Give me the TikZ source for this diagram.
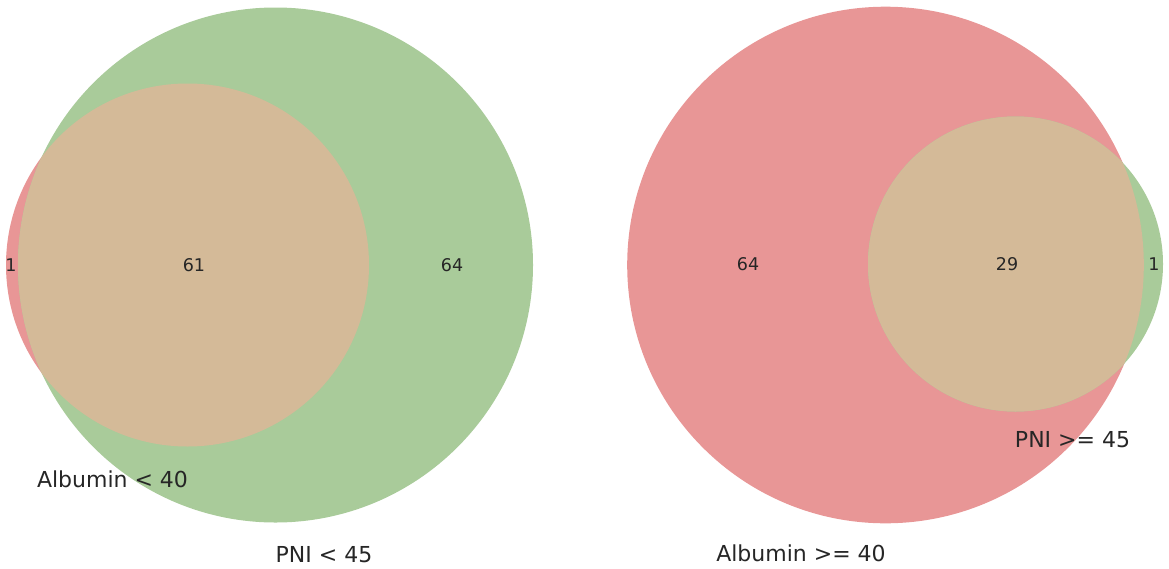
\documentclass[tikz,border=0pt]{standalone}
\usepackage{fontspec}
\setmainfont{DejaVu Sans}
\definecolor{vred}{RGB}{232,150,150}
\definecolor{vgreen}{RGB}{169,203,154}
\definecolor{vmix}{RGB}{212,186,152}
\definecolor{txt}{RGB}{38,38,38}
\tikzset{
  num/.style={text=txt, font=\fontsize{17.5}{19}\selectfont, inner sep=0pt},
  lab/.style={text=txt, font=\fontsize{22}{24}\selectfont, inner sep=0pt},
}
\begin{document}
\begin{tikzpicture}[x=1pt,y=-1pt]
\useasboundingbox (0,0) rectangle (1169,568);
% left diagram
\fill[vred] (187.5,265) circle (181.5);
\fill[vgreen] (275.5,265) circle (257.5);
\begin{scope}
\clip (187.5,265) circle (181.5);
\fill[vmix] (275.5,265) circle (257.5);
\end{scope}
% right diagram
\fill[vred] (885.5,265) circle (258.3);
\fill[vgreen] (1015.5,264) circle (147.5);
\begin{scope}
\clip (885.5,265) circle (258.3);
\fill[vmix] (1015.5,264) circle (147.5);
\end{scope}
% numbers
\node[num] (l10) at (11,265) {1};
\node[num] (l11) at (194,265) {61};
\node[num] (l01) at (452,265) {64};
\node[num] (r10) at (748,264) {64};
\node[num] (r11) at (1007,264) {29};
\node[num] (r01) at (1154,264) {1};
% labels
\node[lab] (la) at (112.5,479) {Albumin < 40};
\node[lab] (lp) at (324,555) {PNI < 45};
\node[lab] (rp) at (1072.5,440) {PNI >= 45};
\node[lab] (ra) at (801,553) {Albumin >= 40};
\end{tikzpicture}
\end{document}
